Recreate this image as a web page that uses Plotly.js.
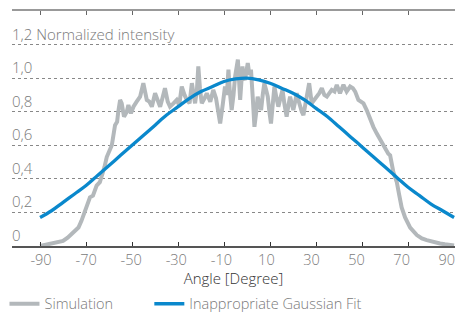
<!DOCTYPE html>
<html>
<head>
<meta charset="utf-8">
<script src="https://cdn.plot.ly/plotly-3.0.1.min.js"></script>
<style>html,body{margin:0;padding:0;background:#fff;}#chart{width:455px;height:314px;}</style>
</head>
<body>
<div id="chart"></div>
<script>
const simAngle = [-90,-87,-85,-82,-80,-78,-75.5,-73.3,-72,-70.4,-69,-68.3,-67,-65.4,-64,-63.2,-62,-61,-60,-58.8,-57.4,-56.5,-56,-55.2,-54.5,-53.5,-52.3,-51.6,-50.5,-49.4,-48,-46.5,-45.1,-44.3,-43.6,-42.5,-41.4,-40,-39,-37.8,-36.8,-35.7,-34.5,-33.5,-32,-30.6,-29.5,-28.4,-27.2,-26.2,-25,-24,-23.2,-22.6,-21.8,-21.2,-20.5,-19.7,-18.5,-17.5,-16,-14.7,-13.5,-12.6,-11.7,-10.6,-9.6,-8.8,-8.1,-7.5,-6.7,-5.9,-5.2,-4,-3.5,-3,-2,-1.5,-0.9,0.3,1,1.7,2.5,3.2,4,4.6,5.3,6.1,6.8,7.5,8.3,9,9.7,10.4,11.2,11.9,12.8,13.6,14.5,15.4,16.3,17.2,18,18.7,19.4,20.1,20.9,21.6,22.3,23,23.8,24.5,25.2,25.9,27,28.1,29.2,30.3,31.4,32.5,33.6,34.7,35.8,36.8,38,39,40.4,41.9,43.3,44.8,46,47,48.4,49.5,50.6,52,53.5,54.9,56.4,57.8,59.3,61.4,62.2,63.6,65.1,66.2,67.2,68.7,70.9,73.8,76,78.1,81,83.9,86,88.3,90];
const simValue = [0,0.008,0.015,0.025,0.03,0.05,0.08,0.11,0.15,0.21,0.26,0.29,0.30,0.36,0.38,0.41,0.47,0.53,0.56,0.60,0.72,0.74,0.80,0.87,0.85,0.77,0.80,0.84,0.79,0.83,0.86,0.89,0.97,0.92,0.87,0.86,0.83,0.91,0.87,0.83,0.88,0.94,0.86,0.83,0.85,0.87,0.84,0.95,0.90,0.87,0.85,0.97,0.90,0.85,0.93,1.07,0.94,0.85,0.88,0.91,0.86,0.93,0.88,0.80,0.73,0.84,0.95,0.90,1.05,0.92,0.81,0.90,1.01,1.11,0.98,0.87,1.07,1.00,0.99,1.09,1.02,1.05,0.88,0.71,0.80,0.89,0.85,0.81,0.90,0.97,0.93,0.89,0.80,0.73,0.85,0.95,0.88,0.83,0.88,0.93,0.84,0.77,0.84,0.89,0.85,0.81,0.86,0.91,0.87,0.83,0.80,0.78,0.84,0.89,0.97,0.85,0.87,0.89,0.91,0.94,0.90,0.89,0.91,0.93,0.92,0.96,0.91,0.96,0.92,0.95,0.94,0.92,0.87,0.86,0.85,0.81,0.75,0.71,0.67,0.63,0.60,0.55,0.54,0.44,0.38,0.30,0.23,0.17,0.11,0.065,0.045,0.035,0.022,0.015,0.01,0.005,0.003];

const fitAngle = [-90,-85,-80,-75,-70,-65,-60,-55,-50,-45,-40,-35,-30,-25,-20,-15,-10,-5,0,5,10,15,20,25,30,35,40,45,50,55,60,65,70,75,80,85,90];
const fitValue = [0.17,0.21,0.26,0.31,0.36,0.42,0.48,0.54,0.60,0.66,0.72,0.78,0.83,0.88,0.92,0.95,0.98,0.995,1.0,0.99,0.97,0.94,0.91,0.87,0.82,0.77,0.71,0.65,0.59,0.53,0.47,0.41,0.35,0.30,0.25,0.21,0.17];

const xTickVals = [-90,-70,-50,-30,-10,10,30,50,70,90];
const xTickText = ['-90','-70','-50','-30','-10','10','30','50','70','90'];
const yTickVals = [0,0.2,0.4,0.6,0.8,1.0,1.2];
const yTickText = ['0','0,2','0,4','0,6','0,8','1,0','1,2 Normalized intensity'];
const seriesNames = ['Simulation','Inappropriate Gaussian Fit'];

const font = 'Open Sans, Lato, sans-serif';
const labelColor = '#7a7a7a';
const legendFont = {family: font, size: 14.5, color: labelColor, weight: 300};
const xRange = [-102.2, 90.4];
const traces = [
  {x: simAngle, y: simValue, name: seriesNames[0], mode: 'lines', line: {color: '#b3b8bb', width: 4}, legend: 'legend'},
  {x: fitAngle, y: fitValue, name: seriesNames[1], mode: 'lines', line: {color: '#0a88cc', width: 3.3, shape: 'spline'}, legend: 'legend2'},
  {x: [], y: [], xaxis: 'x2', yaxis: 'y', showlegend: false, hoverinfo: 'skip', mode: 'lines'},
  {x: [], y: [], xaxis: 'x3', yaxis: 'y', showlegend: false, hoverinfo: 'skip', mode: 'lines'}
];
const annotations = yTickVals.map((v, i) => ({
  xref: 'paper', yref: 'y', x: 0, y: v, xanchor: 'left', yanchor: 'bottom',
  text: yTickText[i], showarrow: false, xshift: -2, yshift: -1,
  font: {family: font, size: 15, color: labelColor, weight: 300}
}));
const layout = {
  width: 455, height: 314,
  margin: {l: 12, r: 0, t: 11, b: 68, autoexpand: false},
  paper_bgcolor: '#fff', plot_bgcolor: '#fff',
  font: {family: font, size: 14, color: labelColor, weight: 300},
  showlegend: true,
  legend: {orientation: 'h', x: -0.017, xanchor: 'left', y: -0.178, yanchor: 'top', font: legendFont, bgcolor: 'rgba(0,0,0,0)'},
  legend2: {orientation: 'h', x: 0.31, xanchor: 'left', y: -0.178, yanchor: 'top', font: legendFont, bgcolor: 'rgba(0,0,0,0)'},
  annotations: annotations,
  xaxis: {
    range: xRange, tickmode: 'array', tickvals: xTickVals,
    showticklabels: false,
    showgrid: false, zeroline: false, showline: true, linecolor: '#555', linewidth: 1.5,
    ticks: 'inside', ticklen: 4, tickcolor: '#333', tickwidth: 1,
    title: {text: 'Angle [Degree]', font: {size: 15, color: '#333', weight: 300}, standoff: 27}
  },
  xaxis2: {
    overlaying: 'x', anchor: 'y', side: 'bottom',
    range: [-102.87, 93.68], tickmode: 'array', tickvals: xTickVals, ticktext: xTickText,
    showgrid: false, zeroline: false, showline: false, ticks: '',
    ticklabeloverflow: 'allow', ticklabelstandoff: 3,
    tickfont: {size: 14.5, color: labelColor, weight: 300}
  },
  xaxis3: {
    overlaying: 'x', anchor: 'y', side: 'top',
    range: xRange, tickmode: 'array', tickvals: xTickVals,
    showticklabels: false, showgrid: false, zeroline: false,
    showline: true, linecolor: '#999', linewidth: 1.5,
    ticks: 'inside', ticklen: 4, tickcolor: '#666', tickwidth: 1
  },
  yaxis: {
    range: [0, 1.4], tickmode: 'array', tickvals: yTickVals,
    showticklabels: false, ticks: '',
    showgrid: true, gridcolor: '#888', griddash: 'dot', gridwidth: 1,
    zeroline: false, showline: false
  }
};
Plotly.newPlot('chart', traces, layout, {displayModeBar: false});
</script>
</body>
</html>
